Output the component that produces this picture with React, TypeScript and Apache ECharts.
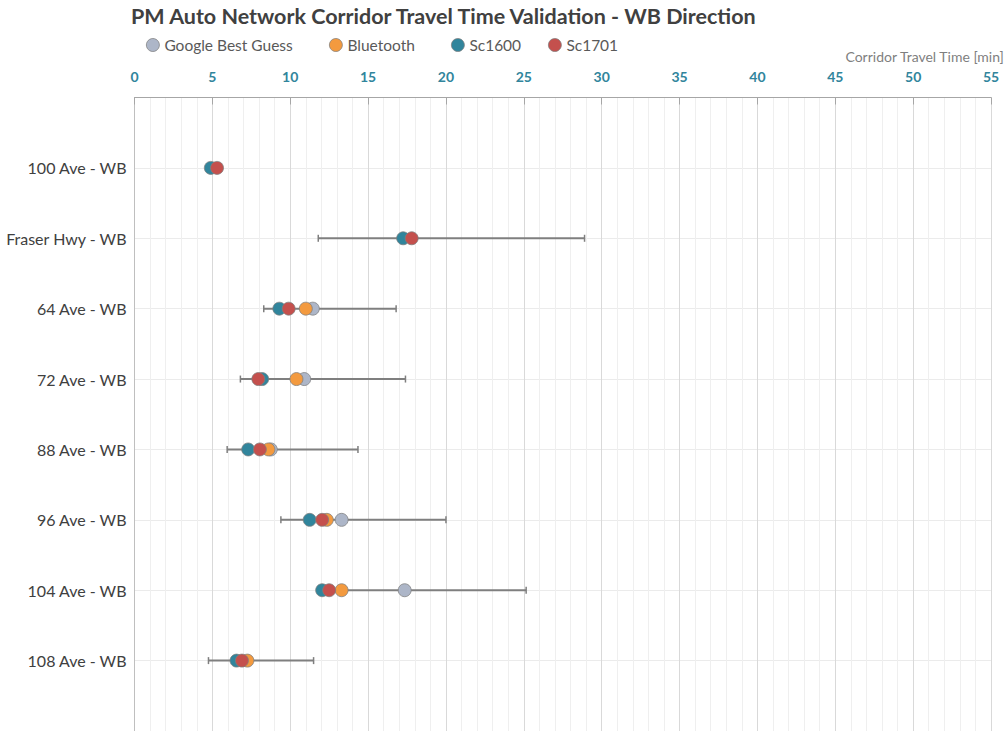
import React, { useEffect, useRef } from "react";
import * as echarts from "echarts";

const categories = [
  "100 Ave - WB",
  "Fraser Hwy - WB",
  "64 Ave - WB",
  "72 Ave - WB",
  "88 Ave - WB",
  "96 Ave - WB",
  "104 Ave - WB",
  "108 Ave - WB",
];
const googleBestGuess = [null, null, 11.45, 10.9, 8.75, 13.3, 17.35, null];
const bluetooth = [null, null, 11.0, 10.4, 8.6, 12.35, 13.3, 7.25];
const sc1600 = [4.9, 17.25, 9.3, 8.2, 7.3, 11.25, 12.05, 6.55];
const sc1701 = [5.3, 17.8, 9.9, 7.95, 8.05, 12.05, 12.5, 6.9];
const rangeMin = [null, 11.8, 8.3, 6.8, 5.95, 9.4, 12.3, 4.75];
const rangeMax = [null, 28.9, 16.8, 17.4, 14.35, 20.0, 25.15, 11.5];
const xTicks = [0, 5, 10, 15, 20, 25, 30, 35, 40, 45, 50, 55];

const FONT = "Lato, 'Open Sans', sans-serif";

const seriesDefs = [
  { name: "Google Best Guess", data: googleBestGuess, color: "#ADB6C8", legendLeft: 141 },
  { name: "Bluetooth", data: bluetooth, color: "#F39A3F", legendLeft: 324 },
  { name: "Sc1600", data: sc1600, color: "#31859C", legendLeft: 446 },
  { name: "Sc1701", data: sc1701, color: "#C4504D", legendLeft: 543 },
];

export default function App() {
  const ref = useRef<HTMLDivElement>(null);
  useEffect(() => {
    if (!ref.current) return;
    document.documentElement.style.overflow = "hidden";
    document.body.style.overflow = "hidden";
    document.body.style.margin = "0";
    const chart = echarts.init(ref.current, undefined, { renderer: "svg" });
    const toPoints = (vals: (number | null)[]) =>
      vals
        .map((v, i) => (v == null ? null : [v, i + 1]))
        .filter((p) => p !== null);
    const rangeData = rangeMin
      .map((lo, i) => (lo == null || rangeMax[i] == null ? null : [lo, rangeMax[i], i + 1]))
      .filter((p) => p !== null);

    chart.setOption({
      animation: false,
      title: {
        text: "PM Auto Network Corridor Travel Time Validation - WB Direction",
        left: 126,
        top: 0,
        textStyle: { fontFamily: FONT, fontSize: 21.5, fontWeight: "bold", color: "#404040" },
      },
      graphic: [
        {
          type: "text",
          right: 3,
          top: 49,
          style: {
            text: "Corridor Travel Time [min]",
            fontFamily: FONT,
            fontSize: 14,
            fill: "#7F7F7F",
          },
        },
      ],
      legend: seriesDefs.map((s) => ({
        data: [s.name],
        left: s.legendLeft,
        top: 32,
        icon: "circle",
        itemWidth: 13,
        itemHeight: 13,
        itemStyle: { borderColor: "#7F7F7F", borderWidth: 0.75 },
        textStyle: { fontFamily: FONT, fontSize: 15.5, color: "#595959", padding: [0, 0, 0, 0] },
        selectedMode: false,
      })),
      grid: { left: 134.5, right: 17, top: 97.5, bottom: -2, containLabel: false },
      xAxis: {
        type: "value",
        position: "top",
        min: 0,
        max: 55,
        interval: 5,
        axisLine: { show: true, lineStyle: { color: "#A6A6A6", width: 1 } },
        axisTick: { show: true, inside: true, length: 7, lineStyle: { color: "#A6A6A6" } },
        axisLabel: {
          fontFamily: FONT,
          fontSize: 14,
          fontWeight: "bold",
          color: "#31859C",
          margin: 14,
          formatter: (v: number) => (xTicks.includes(v) ? String(v) : ""),
        },
        splitLine: { show: true, lineStyle: { color: "#D9D9D9", width: 1 } },
        minorTick: { show: false, splitNumber: 5 },
        minorSplitLine: { show: true, lineStyle: { color: "#EFEFEF", width: 1 } },
      },
      yAxis: {
        type: "value",
        inverse: true,
        min: 0,
        max: 9,
        interval: 1,
        axisLine: { show: true, lineStyle: { color: "#BFBFBF", width: 1 } },
        axisTick: { show: false },
        axisLabel: {
          fontFamily: FONT,
          fontSize: 16,
          color: "#404040",
          margin: 8,
          formatter: (v: number) => categories[v - 1] ?? "",
        },
        splitLine: { show: true, lineStyle: { color: "#EBEBEB", width: 1 } },
      },
      series: [
        {
          type: "custom",
          name: "range",
          z: 1,
          silent: true,
          encode: { x: [0, 1], y: 2 },
          data: rangeData,
          renderItem: (params: any, api: any) => {
            const y = api.value(2);
            const a = api.coord([api.value(0), y]);
            const b = api.coord([api.value(1), y]);
            const style = { stroke: "#7F7F7F", lineWidth: 2 };
            const cap = 3.5;
            return {
              type: "group",
              children: [
                { type: "line", shape: { x1: a[0], y1: a[1], x2: b[0], y2: b[1] }, style },
                { type: "line", shape: { x1: a[0], y1: a[1] - cap, x2: a[0], y2: a[1] + cap }, style: { stroke: "#7F7F7F", lineWidth: 1.5 } },
                { type: "line", shape: { x1: b[0], y1: b[1] - cap, x2: b[0], y2: b[1] + cap }, style: { stroke: "#7F7F7F", lineWidth: 1.5 } },
              ],
            };
          },
        },
        ...seriesDefs.map((s, k) => ({
          type: "scatter",
          name: s.name,
          z: 2 + k,
          symbol: "circle",
          symbolSize: 13,
          data: toPoints(s.data),
          itemStyle: { color: s.color, borderColor: "#7F7F7F", borderWidth: 0.75, opacity: 1 },
        })),
      ],
    });
    return () => chart.dispose();
  }, []);
  return <div ref={ref} style={{ width: 1008, height: 731 }} />;
}
